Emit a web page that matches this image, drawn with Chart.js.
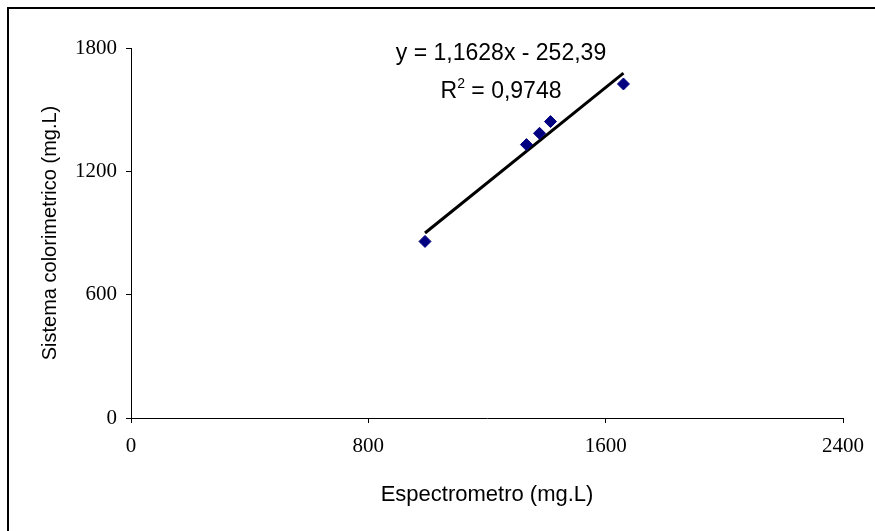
<!DOCTYPE html>
<html>
<head>
<meta charset="utf-8">
<title>Espectrometro x Sistema colorimetrico</title>
<script src="https://cdn.jsdelivr.net/npm/chart.js@4/dist/chart.umd.min.js"></script>
<style>
  html, body { margin: 0; padding: 0; background: #fff; }
  #frame {
    position: absolute; left: 7px; top: 7px; right: 0; bottom: 0;
    border-top: 2px solid #000; border-left: 2px solid #000;
  }
  #wrap { position: absolute; left: 0; top: 0; width: 875px; height: 531px; }
</style>
</head>
<body>
<div id="frame"></div>
<div id="wrap"><canvas id="chart"></canvas></div>
<script>
// --- measured samples -------------------------------------------------------
const espectrometro = [991, 1333, 1377, 1414, 1660];
const colorimetrico = [859, 1330, 1385, 1442, 1625];

// --- linear trend (as reported on the chart) ---------------------------------
const slope = 1.1628;
const intercept = -252.39;
const r2 = 0.9748;

// --- axes --------------------------------------------------------------------
const xTicks = [0, 800, 1600, 2400];
const yTicks = [0, 600, 1200, 1800];

const points = espectrometro.map((x, i) => ({ x, y: colorimetrico[i] }));
const xMin = Math.min(...espectrometro);
const xMax = Math.max(...espectrometro);
const trend = [xMin, xMax].map(x => ({ x, y: slope * x + intercept }));

const fmt = (v, d) => v.toFixed(d).replace(".", ",");
const eqLine = "y = " + fmt(slope, 4) + "x - " + fmt(-intercept, 2);
const r2Line = " = " + fmt(r2, 4);

// equation label drawn above the trend line
const trendLabel = {
  id: "trendLabel",
  afterDraw(chart) {
    const { ctx } = chart;
    const big = "23px 'Liberation Sans', Arial, sans-serif";
    const small = "14px 'Liberation Sans', Arial, sans-serif";
    ctx.save();
    ctx.fillStyle = "#000";
    ctx.textBaseline = "middle";
    ctx.font = big;
    ctx.textAlign = "center";
    ctx.fillText(eqLine, 501, 54);

    // R² with a raised superscript
    const wR = ctx.measureText("R").width;
    const wRest = ctx.measureText(r2Line).width;
    ctx.font = small;
    const w2 = ctx.measureText("2").width;
    let x = 501 - (wR + w2 + wRest) / 2;
    ctx.textAlign = "left";
    ctx.font = big;
    ctx.fillText("R", x, 92);
    x += wR;
    ctx.font = small;
    ctx.fillText("2", x, 84);
    x += w2;
    ctx.font = big;
    ctx.fillText(r2Line, x, 92);
    ctx.restore();
  }
};

const tickFont = { family: "'Liberation Serif', 'Times New Roman', serif", size: 21 };
const plainTick = v => String(v);

new Chart(document.getElementById("chart"), {
  type: "scatter",
  data: {
    datasets: [
      {
        label: "Amostras",
        data: points,
        pointStyle: "rectRot",
        pointRadius: 6,
        pointHoverRadius: 6,
        backgroundColor: "#000080",
        borderColor: "#000080",
        borderWidth: 1,
        order: 1,
      },
      {
        label: "Linear",
        type: "line",
        data: trend,
        borderColor: "#000",
        borderWidth: 3,
        pointRadius: 0,
        fill: false,
        order: 2,
      },
    ],
  },
  options: {
    responsive: true,
    maintainAspectRatio: false,
    animation: false,
    layout: { padding: { left: 0, top: 48, right: 30, bottom: 0 } },
    plugins: {
      legend: { display: false },
      tooltip: { enabled: false },
    },
    scales: {
      x: {
        type: "linear",
        min: 0,
        max: 2400,
        afterBuildTicks: s => { s.ticks = xTicks.map(v => ({ value: v })); },
        afterFit: s => { s.height = 113; },
        border: { display: true, color: "#000", width: 1 },
        grid: { drawOnChartArea: false, drawTicks: true, tickLength: 5, color: "#000" },
        ticks: { color: "#000", font: tickFont, padding: 11, maxRotation: 0, callback: plainTick },
        title: {
          display: true,
          text: "Espectrometro (mg.L)",
          color: "#000",
          font: { family: "'Liberation Sans', Arial, sans-serif", size: 22 },
          padding: { top: 0, bottom: 23 },
        },
      },
      y: {
        type: "linear",
        min: 0,
        max: 1800,
        afterBuildTicks: s => { s.ticks = yTicks.map(v => ({ value: v })); },
        afterFit: s => { s.width = 131; },
        border: { display: true, color: "#000", width: 1 },
        grid: { drawOnChartArea: false, drawTicks: true, tickLength: 5, color: "#000" },
        ticks: { color: "#000", font: tickFont, padding: 9, callback: plainTick },
        title: {
          display: true,
          text: "Sistema colorimetrico (mg.L)",
          color: "#000",
          font: { family: "'Liberation Sans', Arial, sans-serif", size: 20 },
          padding: { top: 38, bottom: 0 },
        },
      },
    },
  },
  plugins: [trendLabel],
});
</script>
</body>
</html>
